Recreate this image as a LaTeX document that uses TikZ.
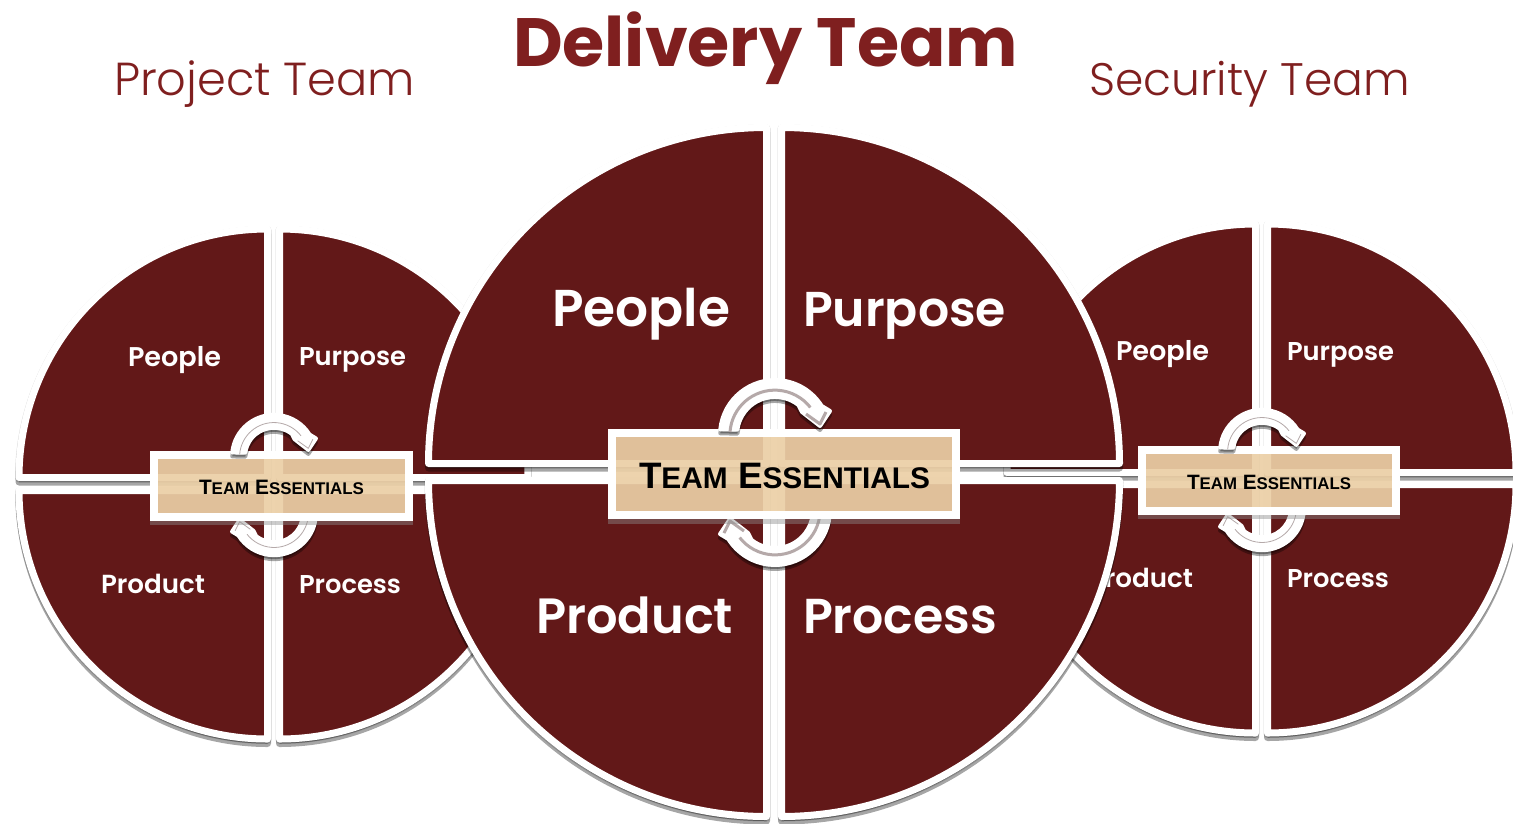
\documentclass[tikz,border=0pt]{standalone}
\usepackage{fontspec}
\setmainfont{Poppins Light}
\newfontfamily\arialf{Liberation Sans}
\newfontfamily\medf{Poppins SemiBold}
\newfontfamily\boldf{Poppins}
\definecolor{maroon}{HTML}{621818}
\definecolor{titlered}{HTML}{7F1F1F}
\definecolor{tanfill}{HTML}{EBCFA6}
\definecolor{stripe}{HTML}{B5A9A9}
\definecolor{shadowgrey}{RGB}{140,140,140}
\tikzset{
  quadfill/.style={fill=maroon,draw=white,line width=7pt,line join=round},
  quadshadow/.style={fill=black,draw=black,line width=7pt,line join=round,opacity=.35},
  quadhalo/.style={draw=black,line width=8pt,line join=round,opacity=.16},
  lab/.style={inner sep=0pt,outer sep=0pt,anchor=base west,text=white},
  teambox/.style={rectangle,draw=white,line width=8pt,fill=tanfill,fill opacity=.92,inner sep=0pt},
  teamlabel/.style={inner sep=0pt,outer sep=0pt,anchor=base,text=black},
  boxshadow/.style={fill=shadowgrey,opacity=.44},
  arrowbody/.style={fill=white,draw=white,line width=4pt,line join=round},
  arrowshadow/.style={fill=black,draw=black,line width=4pt,line join=round,opacity=.35},
  title/.style={inner sep=0pt,outer sep=0pt,anchor=base west,text=titlered}
}
% one quadrant: corner x, corner y, radius x, radius y, start angle of its arc
\newcommand{\qdpath}[5]{(#1,#2) -- ({#1+#3*cos(#5)},{#2+#4*sin(#5)}) arc[start angle=#5,delta angle=90,x radius=#3pt,y radius=#4pt] -- cycle}
\newcommand{\qd}[5]{%
  \path[quadshadow] \qdpath{#1}{#2+4.5}{#3}{#4}{#5};
  \path[quadhalo] \qdpath{#1}{#2+1}{#3}{#4}{#5};
  \path[quadfill] \qdpath{#1}{#2}{#3}{#4}{#5};
}
\newcommand{\arrowoutline}{(-54.7,-42.7) arc[start angle=186,end angle=328,radius=55pt] -- (55,-61) -- (45,-46) -- (27,-60) -- (23.4,-67) arc[start angle=308,end angle=188,radius=38pt] -- cycle}
% curved arrow: centre x, y, scale, rotation, stripe width
\newcommand{\curvedarrow}[5]{%
  \begin{scope}[shift={(#1,#2+4)},scale=#3,rotate=#4]
    \path[arrowshadow] \arrowoutline;
  \end{scope}
  \begin{scope}[shift={(#1,#2)},scale=#3,rotate=#4]
    \path[arrowbody] \arrowoutline;
    \draw[stripe,line width=#5pt,line join=round] (-45,-40) arc[start angle=184,end angle=322,radius=45pt];
    \draw[stripe,line width=#5pt,line join=round] (31,-58) -- (45,-48) -- (51,-60);
  \end{scope}
}
\newcommand{\teamtext}[1]{\resizebox{#1pt}{!}{\arialf\bfseries\fontsize{37}{37}\selectfont T\fontsize{30}{30}\selectfont EAM\fontsize{37}{37}\selectfont\ E\fontsize{30}{30}\selectfont SSENTIALS}}
\newcommand{\wtxt}[2]{\resizebox{#1pt}{!}{\medf #2}}
\begin{document}
\begin{tikzpicture}[x=1pt,y=1pt,yscale=-1]
\useasboundingbox (0,0) rectangle (1513,823);
% left circle
\qd{267.5}{477.5}{248.5}{248.5}{180}
\qd{279.5}{477.5}{248.5}{248.5}{270}
\qd{267.5}{490.5}{248.5}{248.5}{90}
\qd{279.5}{490.5}{248.5}{248.5}{0}
\node[lab] (lpeople) at (128,366) {\wtxt{93}{People}};
\node[lab] (lpurpose) at (299,365) {\wtxt{107}{Purpose}};
\node[lab] (lproduct) at (101,593) {\wtxt{104}{Product}};
\node[lab] (lprocess) at (299,593) {\wtxt{102}{Process}};
% right circle
\qd{1255.5}{472.5}{248.5}{248.5}{180}
\qd{1267.5}{472.5}{248.5}{248.5}{270}
\qd{1255.5}{484.5}{248.5}{248.5}{90}
\qd{1267.5}{484.5}{248.5}{248.5}{0}
\node[lab] (rpeople) at (1116,360) {\wtxt{93}{People}};
\node[lab] (rpurpose) at (1287,360) {\wtxt{107}{Purpose}};
\node[lab] (rproduct) at (1089,587) {\wtxt{104}{Product}};
\node[lab] (rprocess) at (1287,587) {\wtxt{102}{Process}};
% central circle
\qd{766.5}{463.5}{338}{336}{180}
\qd{781.5}{463.5}{338}{336}{270}
\qd{766.5}{480.5}{338}{336}{90}
\qd{781.5}{480.5}{338}{336}{0}
\node[lab] (cpeople) at (552,326) {\wtxt{178}{People}};
\node[lab] (cpurpose) at (803,326) {\wtxt{203}{Purpose}};
\node[lab] (cproduct) at (536,633) {\wtxt{197}{Product}};
\node[lab] (cprocess) at (803,633) {\wtxt{194}{Process}};
% lower arrows, behind the boxes
\curvedarrow{274}{485}{.763}{180}{.8}
\curvedarrow{1262}{480}{.763}{180}{.8}
\curvedarrow{775}{473}{1}{180}{3}
% boxes
\fill[boxshadow] (150,521) rectangle (413,525);
\fill[boxshadow] (1138,515) rectangle (1400,519);
\fill[boxshadow] (608,519) rectangle (960,524);
\node[teambox,minimum width=255pt,minimum height=62pt] (lbox) at (281.5,486) {};
\node[teambox,minimum width=254pt,minimum height=61pt] (rbox) at (1269,480.5) {};
\node[teambox,minimum width=344pt,minimum height=82pt] (cbox) at (784,474) {};
\node[teamlabel] (lteam) at (281.5,494) {\teamtext{165}};
\node[teamlabel] (rteam) at (1269,489) {\teamtext{164}};
\node[teamlabel] (cteam) at (784.5,488) {\teamtext{291}};
% upper arrows, in front of the boxes
\curvedarrow{274}{485}{.763}{0}{.8}
\curvedarrow{1262}{480}{.763}{0}{.8}
\curvedarrow{775}{472}{1}{0}{3}
% titles
\node[title] (delivery) at (513,66) {\resizebox{505pt}{!}{\boldf\bfseries Delivery Team}};
\node[title] (project) at (114,95) {\resizebox{301pt}{!}{Project Team}};
\node[title] (security) at (1089,95) {\resizebox{321pt}{!}{Security Team}};
\end{tikzpicture}
\end{document}
